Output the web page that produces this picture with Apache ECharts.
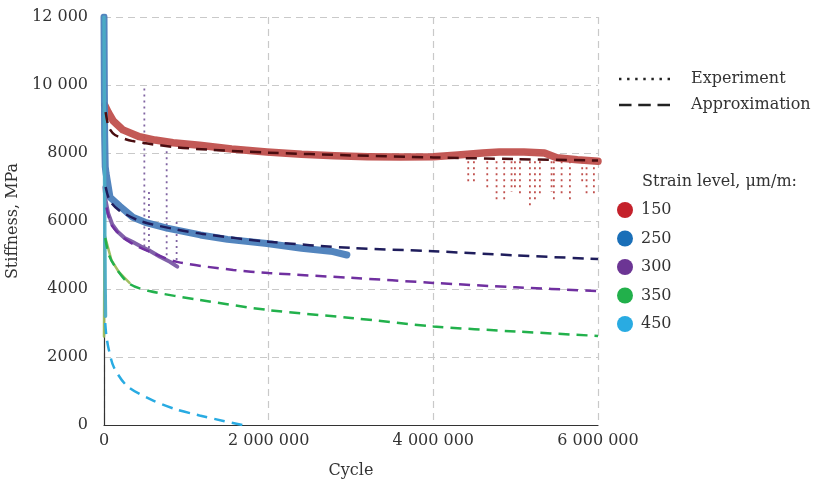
<!DOCTYPE html>
<html>
<head>
<meta charset="utf-8">
<script src="https://cdn.jsdelivr.net/npm/echarts@6/dist/echarts.min.js"></script>
<style>
  html, body { margin: 0; padding: 0; background: #fff; }
  #container { width: 815px; height: 481px; }
</style>
</head>
<body>
<div id="container"></div>
<script>
var dom = document.getElementById("container");
var myChart = echarts.init(dom);
var option;

var FONT = 'DejaVu Serif';

// tick labels
var xTickLabels = ['0', '2 000 000', '4 000 000', '6 000 000'];
var yTickLabels = ['0', '2000', '4000', '6000', '8000', '10 000', '12 000'];

// legend
var strainLevels = ['150', '250', '300', '350', '450'];
var strainColors = ['#c4212b', '#1a6fb8', '#6c3594', '#22b04b', '#29abe2'];

// experiment (cycle, stiffness MPa)
var exp150 = [[10000, 9400], [50000, 9200], [110000, 8950], [230000, 8680], [430000, 8480], [620000, 8380],
    [840000, 8300], [1160000, 8230], [1550000, 8120], [1980000, 8030], [2400000, 7960], [2800000, 7920],
    [3200000, 7890], [3600000, 7880], [4000000, 7890], [4300000, 7940], [4600000, 8000], [4800000, 8030],
    [5100000, 8030], [5350000, 8000], [5500000, 7860], [5750000, 7800], [6000000, 7760]];
var exp250 = [[0, 12000], [4000, 10000], [8000, 8500], [15000, 7600], [25000, 7400], [73000, 6700],
    [194000, 6430], [350000, 6110], [500000, 5960], [765000, 5790], [1170000, 5590], [1500000, 5460],
    [1980000, 5340], [2400000, 5200], [2780000, 5100], [2950000, 5000]];
var exp300 = [[5000, 7000], [20000, 6600], [50000, 6230], [100000, 5900], [160000, 5700], [250000, 5500],
    [350000, 5380], [450000, 5250], [560000, 5120], [680000, 4950], [800000, 4800], [890000, 4660]];
var exp350 = [[0, 2600], [6000, 5600], [15000, 5650], [40000, 5300], [90000, 4850], [180000, 4500],
    [250000, 4330], [310000, 4180]];
var exp450 = [[0, 12000], [2000, 11000], [4000, 9500], [7000, 7500], [10000, 5500], [14000, 4000],
    [18000, 3200]];

// experiment drop-outs: cycle, top, bottom
var drop150Cycles = [4424000, 4493000, 4655000, 4768000, 4861000, 4950000, 4991000, 5052000, 5173000,
    5234000, 5294000, 5436000, 5464000, 5558000, 5659000, 5808000, 5861000, 5950000];
var drop150Lows = [7157, 7108, 6961, 6588, 6588, 6863, 6961, 6814, 6402, 6569, 6765, 6863, 6618, 6765,
    6618, 7059, 6716, 6814];
var drop150Top = 7760;
var drop300Cycles = [490000, 546000, 761000, 882000];
var drop300Tops = [9900, 6850, 8050, 5970];
var drop300Lows = [5150, 5100, 4850, 4760];

// approximation
var app150 = [[20000, 9200], [60000, 8750], [134000, 8530], [350000, 8350], [840000, 8180], [1250000, 8100],
    [2000000, 8010], [3000000, 7930], [4000000, 7870], [5000000, 7820], [6000000, 7780]];
var app250 = [[20000, 7000], [70000, 6600], [180000, 6320], [440000, 6000], [840000, 5770], [1200000, 5620],
    [2000000, 5390], [3000000, 5210], [4000000, 5110], [5000000, 4990], [6000000, 4880]];
var app300 = [[30000, 6400], [100000, 5850], [300000, 5400], [600000, 5050], [900000, 4790], [1570000, 4560],
    [2000000, 4470], [3000000, 4330], [4000000, 4180], [5000000, 4050], [6000000, 3940]];
var app350 = [[15000, 5500], [60000, 5000], [150000, 4600], [310000, 4150], [550000, 3940], [1160000, 3680],
    [2000000, 3380], [3000000, 3150], [4000000, 2900], [5000000, 2750], [6000000, 2620]];
var app450 = [[15000, 3000], [30000, 2600], [60000, 2200], [120000, 1700], [280000, 1150], [560000, 760],
    [850000, 480], [1160000, 280], [1450000, 120], [1680000, 0]];

function dropSegments(cycles, tops, lows) {
    var out = [];
    for (var i = 0; i < cycles.length; i++) {
        var top = Array.isArray(tops) ? tops[i] : tops;
        out.push([cycles[i], top], [cycles[i], lows[i]], [cycles[i], '-']);
    }
    return out;
}

function expSeries(name, data, color, width) {
    return {
        name: name, type: 'line', data: data, symbol: 'none', silent: true,
        lineStyle: { color: color, width: width, cap: 'round', join: 'round', opacity: 0.95 }
    };
}

function dropSeries(name, data, color) {
    return {
        name: name, type: 'line', data: data, symbol: 'none', silent: true, connectNulls: false,
        lineStyle: { color: color, width: 1.8, type: [2, 4] }
    };
}

function appSeries(name, data, color) {
    return {
        name: name, type: 'line', data: data, symbol: 'none', smooth: 0.3, silent: true,
        lineStyle: { color: color, width: 2.5, type: [11, 7] },
        itemStyle: { color: color }
    };
}

var dotsIcon = 'path://M0,0h2.4v2.4h-2.4z M8,0h2.4v2.4h-2.4z M16,0h2.4v2.4h-2.4z M24,0h2.4v2.4h-2.4z M32,0h2.4v2.4h-2.4z M40,0h2.4v2.4h-2.4z M48,0h2.4v2.4h-2.4z';
var dashIcon = 'path://M0,0h13v2.4h-13z M20,0h13v2.4h-13z M40,0h13v2.4h-13z';

option = {
    animation: false,
    backgroundColor: '#fff',
    textStyle: { fontFamily: FONT, color: '#333' },
    grid: { left: 104, right: 217, top: 17, bottom: 56, containLabel: false, outerBoundsMode: 'none' },
    title: {
        text: 'Strain level, μm/m:',
        left: 637, top: 169,
        textStyle: { fontFamily: FONT, fontSize: 16, fontWeight: 'normal', color: '#333' }
    },
    legend: [
        {
            orient: 'vertical', left: 614, top: 66, itemWidth: 51, itemHeight: 3, itemGap: 10,
            selectedMode: false,
            textStyle: { fontFamily: FONT, fontSize: 16, color: '#333', padding: [0, 0, 0, 16] },
            data: [
                { name: 'Experiment', icon: dotsIcon, itemStyle: { color: '#222' } },
                { name: 'Approximation', icon: dashIcon, itemStyle: { color: '#222' } }
            ]
        },
        {
            orient: 'vertical', left: 612, top: 197, itemWidth: 16, itemHeight: 16, itemGap: 12.5,
            selectedMode: false, icon: 'circle',
            textStyle: { fontFamily: FONT, fontSize: 16, color: '#333', padding: [0, 0, 0, 3] },
            data: strainLevels.map(function (s, i) {
                return { name: s, itemStyle: { color: strainColors[i] } };
            })
        }
    ],
    xAxis: {
        type: 'value', min: 0, max: 6000000, interval: 2000000,
        name: 'Cycle', nameLocation: 'middle', nameGap: 38,
        nameTextStyle: { fontFamily: FONT, fontSize: 16, color: '#333' },
        axisLine: { lineStyle: { color: '#333', width: 1.2 } },
        axisTick: { show: false },
        axisLabel: {
            fontFamily: FONT, fontSize: 16, color: '#333', margin: 8,
            formatter: function (v) { return xTickLabels[Math.round(v / 2000000)]; }
        },
        splitLine: { show: true, lineStyle: { color: '#c9c9c9', width: 1.2, type: [7, 5] } }
    },
    yAxis: {
        type: 'value', min: 0, max: 12000, interval: 2000,
        name: 'Stiffness, MPa', nameLocation: 'middle', nameGap: 74, nameRotate: 90,
        nameTextStyle: { fontFamily: FONT, fontSize: 16, color: '#333' },
        axisLine: { show: true, lineStyle: { color: '#333', width: 1.2 } },
        axisTick: { show: false },
        axisLabel: {
            fontFamily: FONT, fontSize: 16, color: '#333', margin: 16,
            formatter: function (v) { return yTickLabels[Math.round(v / 2000)]; }
        },
        splitLine: { show: true, lineStyle: { color: '#c9c9c9', width: 1.2, type: [7, 5] } }
    },
    series: [
        { name: 'Experiment', type: 'line', data: [], itemStyle: { color: '#222' } },
        { name: 'Approximation', type: 'line', data: [], itemStyle: { color: '#222' } },
        dropSeries('drop150', dropSegments(drop150Cycles, drop150Top, drop150Lows), '#c0504d'),
        dropSeries('drop300', dropSegments(drop300Cycles, drop300Tops, drop300Lows), '#8064a2'),
        expSeries('exp150', exp150, '#c0504d', 7.5),
        expSeries('exp250', exp250, '#4a7ebb', 7),
        expSeries('exp300', exp300, '#7a58a4', 4),
        expSeries('exp350', exp350, '#9bbb59', 2.5),
        expSeries('exp450', exp450, '#4bacc6', 3.5),
        appSeries('150', app150, '#4a0d10'),
        appSeries('250', app250, '#1f1d5c'),
        appSeries('300', app300, '#7030a0'),
        appSeries('350', app350, '#22b14c'),
        appSeries('450', app450, '#29abe2')
    ]
};

if (option && typeof option === 'object') {
    myChart.setOption(option);
}
</script>
</body>
</html>
